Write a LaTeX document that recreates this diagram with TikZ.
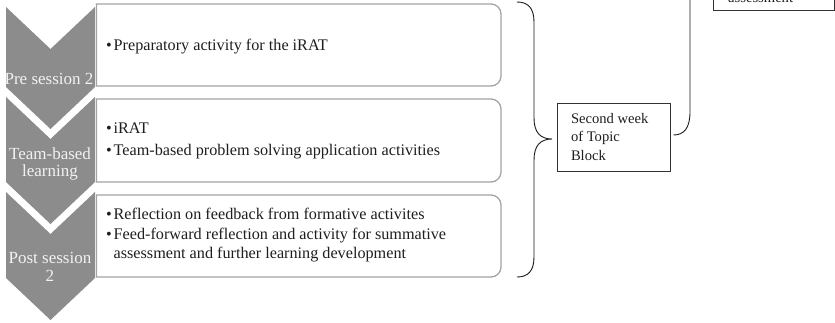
\documentclass[tikz,border=0pt]{standalone}
\usepackage{fontspec}
\setmainfont{Liberation Serif}
\definecolor{chev}{HTML}{8C8C8C}
\definecolor{chevtext}{HTML}{F2F2F2}
\definecolor{boxline}{HTML}{A3A3A3}
\definecolor{ink}{HTML}{1E1E1E}
\tikzset{
  chevshape/.style={fill=chev, draw=none},
  chevlabel/.style={text=chevtext, font=\fontsize{17}{17.5}\selectfont, align=center, inner sep=0pt},
  boxoutline/.style={draw=boxline, line width=1.3pt},
  boxtext/.style={text=ink, font=\fontsize{16.2}{19}\selectfont, align=left, anchor=west, inner sep=0pt},
  weekbox/.style={draw=black!80, line width=1pt, minimum width=113pt, minimum height=68pt, inner sep=0pt,
                  text=ink, font=\fontsize{14.6}{18.5}\selectfont},
  bracestyle/.style={draw=black!90, line width=0.9pt},
}
\newcommand\bul{\makebox[7.5pt][l]{\textbullet}}
\newcommand\chevpath[3]{% top, side end, depth
  \fill[chevshape] (6,#1) -- (50.5,{#1+#3}) -- (95,#1) -- (95,#2) -- (50.5,{#2+#3}) -- (6,#2) -- cycle;}
\newcommand\roundbox[4]{% x1 y1 x2 y2
  \draw[boxoutline] (#1,#2) -- ({#3-10},#2) .. controls ({#3-4.5},#2) and (#3,{#2+4.5}) .. (#3,{#2+10})
    -- (#3,{#4-10}) .. controls (#3,{#4-4.5}) and ({#3-4.5},#4) .. ({#3-10},#4) -- (#1,#4) -- cycle;}
\begin{document}
\begin{tikzpicture}[x=1pt,y=-1pt]
\useasboundingbox (0,0) rectangle (835,322);
\clip (0,0) rectangle (835,322);
% chevrons
\chevpath{7}{87}{42}
\chevpath{97}{182}{42}
\chevpath{192}{278}{42}
\node[chevlabel] (c1) at (49,79) {Pre session 2};
\node[chevlabel] (c2) at (50,164) {Team-based\\learning};
\node[chevlabel] (c3) at (50,267) {Post session\\2};
% boxes
\roundbox{96.5}{4}{501}{86}
\roundbox{96.5}{99}{501}{182}
\roundbox{96.5}{195}{501}{277}
\node[boxtext] (t1) at (106,47) {\bul Preparatory activity for the iRAT};
\node[boxtext] (t2) at (106,141) {\bul iRAT\\[3pt]\bul Team-based problem solving application activities};
\node[boxtext] (t3) at (106,235) {\bul Reflection on feedback from formative activites\\[1pt]\bul Feed-forward reflection and activity for summative\\\hspace*{7.5pt}assessment and further learning development};
% brace 1
\coordinate (b1tip) at (552,139);
\draw[bracestyle] (517,2) .. controls (528,2) and (534,8) .. (534,22) -- (534,118)
  .. controls (534,132) and (540,139) .. (b1tip)
  .. controls (540,139) and (534,146) .. (534,160) -- (534,257)
  .. controls (534,271) and (528,277) .. (517,277);
% week box
\node[weekbox] (week) at (613.5,137) {\begin{minipage}{85pt}\raggedright Second week\\of Topic\\Block\end{minipage}};
% brace 2
\coordinate (b2top) at (690,-5);
\draw[bracestyle] (week.east) ++(3,-2) coordinate (b2tip) .. controls (684,135) and (690,128) .. (690,112) -- (b2top);
% top right box
\draw[black!80, line width=1pt] (713,-40) rectangle (834,10);
\node[text=ink, font=\fontsize{14.6}{18.5}\selectfont, anchor=base west, inner sep=0pt] (assess) at (728,2.5) {assessment};
\end{tikzpicture}
\end{document}
